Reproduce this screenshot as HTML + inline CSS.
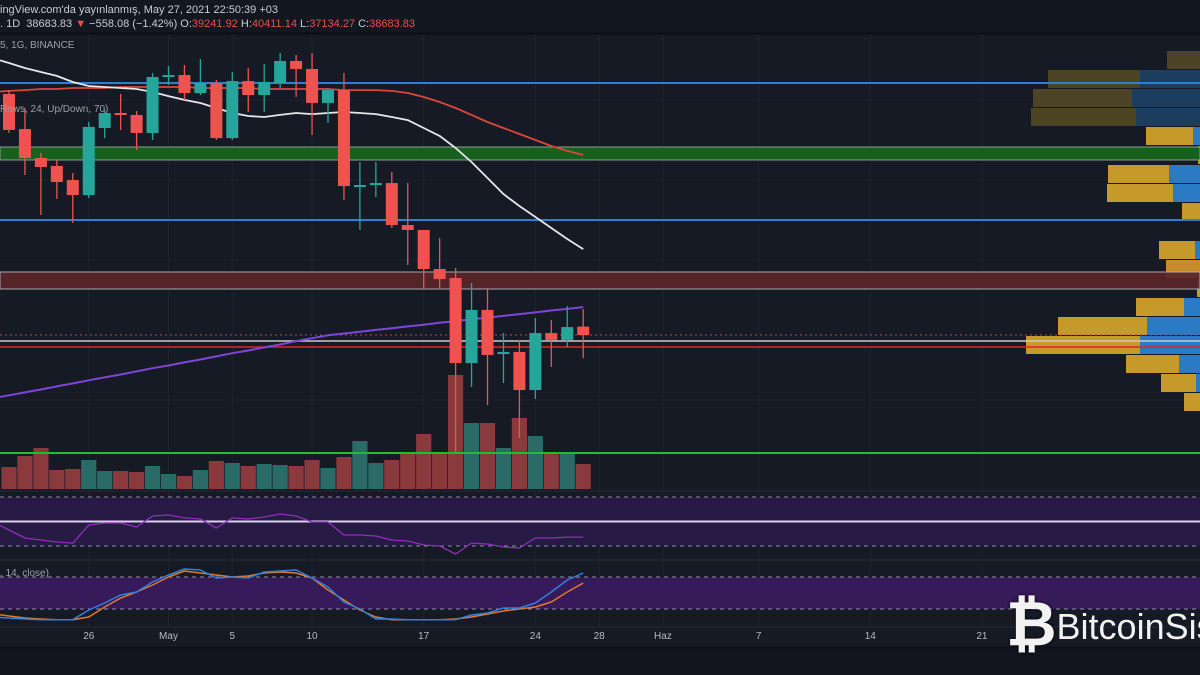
<!DOCTYPE html>
<html><head><meta charset="utf-8">
<style>
html,body{margin:0;padding:0;background:#141823;}
#wrap{position:relative;width:1200px;height:675px;overflow:hidden;background:#161a25;font-family:"Liberation Sans",sans-serif;}
svg{position:absolute;left:0;top:0;}
.hdr{position:absolute;left:0;color:#c8ccd6;font-size:11px;white-space:nowrap;}
.red{color:#e0524f;}
</style></head>
<body>
<div id="wrap">
<svg id="chart" width="1200" height="675"></svg>
<div class="hdr" style="top:4px">ingView.com'da yayınlanmış, May 27, 2021 22:50:39 +03</div>
<div class="hdr" style="top:18px">. 1D &nbsp;38683.83 <span class="red">▼</span> −558.08 (−1.42%) O:<span class="red">39241.92</span> H:<span class="red">40411.14</span> L:<span class="red">37134.27</span> C:<span class="red">38683.83</span></div>
<div class="hdr" style="top:40px;color:#9aa0ab;font-size:10px">5, 1G, BINANCE</div>
<div class="hdr" style="top:104px;color:#9aa0ab;font-size:10px">Rows, 24, Up/Down, 70)</div>
<div class="hdr" style="top:568px;color:#9aa0ab;font-size:10px">, 14, close)</div>
<div style="position:absolute;left:1006px;top:590px;height:70px;white-space:nowrap;color:#f2f2f2;">
<span style="font-size:62px;font-weight:bold;line-height:70px;vertical-align:top;text-shadow:0 0 3px #000;">₿</span><span style="font-size:36px;line-height:70px;vertical-align:top;position:relative;top:2px;">BitcoinSis</span>
</div>
</div>
<script>
const open_ = [54.75,52.41,50.48,49.95,49.01,48.01,52.48,53.48,53.35,52.15,55.88,56.01,54.81,55.48,51.81,55.61,54.68,55.48,56.95,56.41,54.15,55.01,48.55,48.68,48.81,46.01,45.68,43.08,42.48,36.81,40.35,37.41,37.55,35.01,38.81,38.35,39.24];
const high_ = [55.01,53.81,50.81,50.35,49.48,52.88,53.68,54.75,53.61,56.15,56.61,56.68,57.08,55.68,56.21,56.48,56.75,57.48,57.35,57.48,55.15,56.15,50.21,50.21,49.55,48.81,45.68,45.15,43.15,42.15,41.81,38.81,38.35,39.81,39.68,40.61,40.41];
const low_ = [52.15,49.35,46.68,47.75,46.15,47.81,51.81,52.35,51.01,51.68,55.35,54.35,54.68,51.68,51.68,53.55,53.55,55.15,54.55,52.01,52.81,47.68,45.68,47.88,45.81,43.35,41.81,41.81,30.88,35.21,34.01,35.48,31.81,34.41,36.55,37.88,37.13];
const close_ = [52.35,50.48,49.88,48.88,48.01,52.55,53.48,53.35,52.15,55.88,56.01,54.81,55.48,51.81,55.61,54.68,55.55,56.95,56.41,54.15,55.01,48.61,48.68,48.81,46.01,45.68,43.08,42.41,36.81,40.35,37.35,37.55,35.01,38.81,38.35,39.21,38.68];
const volume = [44,66,82,38,40,58,36,36,34,46,30,26,38,56,52,46,50,48,46,58,42,64,96,52,58,72,110,74,228,132,132,82,142,106,72,72,50];
const ma20 = [56.81,56.48,56.21,55.95,55.55,55.28,55.21,55.15,55.08,54.88,54.61,54.35,54.15,53.81,53.48,53.28,53.21,53.35,53.48,53.41,53.48,53.55,53.48,53.41,53.21,53.01,52.48,51.95,51.15,50.21,49.15,48.08,47.28,46.55,45.81,45.08,44.41];
const ma50 = [54.95,55.01,55.08,55.08,55.15,55.15,55.15,55.21,55.21,55.21,55.21,55.21,55.15,55.15,55.15,55.15,55.08,55.08,55.08,55.08,55.08,55.01,55.01,55.01,54.95,54.81,54.55,54.21,53.81,53.35,52.88,52.48,52.08,51.68,51.28,50.95,50.68];
const ma200 = [34.66,34.85,35.05,35.25,35.45,35.66,35.85,36.05,36.25,36.47,36.65,36.85,37.05,37.25,37.47,37.65,37.85,38.05,38.27,38.47,38.66,38.78,38.90,39.02,39.13,39.25,39.37,39.49,39.61,39.73,39.84,39.95,40.07,40.19,40.31,40.42,40.54];
const rsi = [43.1,36.5,34.9,33.3,32.4,47.1,48.8,48.8,45.5,54.5,55.3,52.9,52.0,44.7,52.9,52.0,53.7,56.1,54.5,49.6,49.6,39.0,39.0,38.2,34.9,34.1,30.8,30.0,23.5,32.4,31.6,29.2,28.4,36.5,36.5,37.3,37.3];
const stochK = [3.1,1.3,0,0,0,18.1,31.3,46.3,51.9,70.6,83.8,95,93.1,78.1,80,78.1,89.4,91.3,93.1,78.1,61.3,33.1,20,1.3,1.3,0,0,0,0,8.8,12.5,21.9,21.9,31.3,51.9,74.4,87.5];
const stochD = [6.9,3.1,1.3,0,0,5,23.8,40.6,51.9,65,80,91.3,87.5,83.8,80,81.9,87.5,89.4,87.5,78.1,55.6,36.9,18.1,5,0,0,0,0,1.3,5,10.6,16.3,20,23.8,33.1,51.9,68.8];
const levels = [55.48,46.35,40.35,38.68];
const profUp = [0,60,68,64,7,0,31,27,0,0,5,0,0,16,53,60,21,4,0];
const profDown = [33,92,99,105,47,2,61,66,18,0,36,34,3,48,89,114,53,35,16];
const dateLabels = ["26","May","5","10","17","24","28","Haz","7","14","21"];
const dateIdx = [5,10,14,19,26,33,37,41,47,54,61];

const NS="http://www.w3.org/2000/svg";
const svg=document.getElementById('chart');
function el(tag,attrs,parent){const e=document.createElementNS(NS,tag);for(const k in attrs)e.setAttribute(k,attrs[k]);(parent||svg).appendChild(e);return e;}
const xAt=i=>9+i*15.95;
const yP=p=>335-(p-38.68)*15;
const yV=v=>489-v*0.5;
const yR=v=>546-(v-30)*1.225;
const yS=v=>609-(v-20)*0.5333;

let e;
e=el('rect',{x:0,y:0,width:1200,height:33,fill:'#131720'});

el('line',{x1:0,y1:33.5,x2:1200,y2:33.5,stroke:'#0b0d13','stroke-width':2});
e=el('rect',{x:0,y:648,width:1200,height:27,fill:'#121520'});

el('line',{x1:0,y1:647.5,x2:1200,y2:647.5,stroke:'#0d0f16','stroke-width':1.5});

dateIdx.forEach(i=>{el('line',{x1:xAt(i),y1:34,x2:xAt(i),y2:627,stroke:'#1f2330','stroke-width':1});});
[100,180,260,400].forEach(y=>el('line',{x1:0,y1:y,x2:1200,y2:y,stroke:'#1c202b','stroke-width':1}));

el('line',{x1:0,y1:491,x2:1200,y2:491,stroke:'#262a36','stroke-width':1});
el('line',{x1:0,y1:560,x2:1200,y2:560,stroke:'#262a36','stroke-width':1});
el('line',{x1:0,y1:627,x2:1200,y2:627,stroke:'#262a36','stroke-width':1});

e=el('rect',{x:0,y:yR(70),width:1200,height:yR(30)-yR(70),fill:'#271a45'});

el('line',{x1:0,y1:yR(70),x2:1200,y2:yR(70),stroke:'#8d8fa0','stroke-dasharray':'4 4','stroke-width':1});
el('line',{x1:0,y1:yR(30),x2:1200,y2:yR(30),stroke:'#8d8fa0','stroke-dasharray':'4 4','stroke-width':1});
el('line',{x1:0,y1:yR(50),x2:1200,y2:yR(50),stroke:'#d8d0ea','stroke-width':2});
e=el('rect',{x:0,y:yS(80),width:1200,height:yS(20)-yS(80),fill:'#361a5a'});

el('line',{x1:0,y1:yS(80),x2:1200,y2:yS(80),stroke:'#8d8fa0','stroke-dasharray':'4 4','stroke-width':1});
el('line',{x1:0,y1:yS(20),x2:1200,y2:yS(20),stroke:'#8d8fa0','stroke-dasharray':'4 4','stroke-width':1});

for(let r=0;r<profDown.length;r++){
  const y=51+r*19, dim=r<4;
  const bw=profUp[r], yw=profDown[r];
  if(bw>0){e=el('rect',{x:1200-bw,y:y,width:bw,height:18,fill:dim?'#1d3d5f':'#2a7bc4'});
    }
  if(yw>0){e=el('rect',{x:1200-bw-yw,y:y,width:yw,height:18,fill:dim?'#4d4325':(r==11?'#c98a2a':'#c59a2a')});
    }
}

e=el('rect',{x:0,y:147,width:1200,height:13,fill:'#17611f',stroke:'#8f9a8f','stroke-width':1});

e=el('rect',{x:0,y:272,width:1200,height:17,fill:'#5a2529','fill-opacity':0.92,stroke:'#a9a9b0','stroke-width':1});


e=el('line',{x1:0,y1:yP(levels[0]),x2:1200,y2:yP(levels[0]),stroke:'#2e7fd4','stroke-width':2});

e=el('line',{x1:0,y1:yP(levels[1]),x2:1200,y2:yP(levels[1]),stroke:'#2e7fd4','stroke-width':2});

e=el('line',{x1:0,y1:341,x2:1200,y2:341,stroke:'#c9c9cf','stroke-width':1.5});

e=el('line',{x1:0,y1:347,x2:1200,y2:347,stroke:'#e3232b','stroke-width':1.5});

e=el('line',{x1:0,y1:yP(levels[3]),x2:1200,y2:yP(levels[3]),stroke:'#a8504f','stroke-width':1,'stroke-dasharray':'2 3'});


volume.forEach((v,i)=>{
  const up=close_[i]>=open_[i];
  const r=el('rect',{x:xAt(i)-7.6,y:yV(v),width:15.2,height:489-yV(v),fill:up?'#2a6b67':'#8a3a3d'});
  
  
});
e=el('line',{x1:0,y1:453,x2:1200,y2:453,stroke:'#1fbf2a','stroke-width':2});


function poly(arr,yf,color,w,name,x0){
  let pts=arr.map((v,i)=>xAt(i).toFixed(1)+','+yf(v).toFixed(1));
  if(x0!==undefined){const s=(yf(arr[1])-yf(arr[0]))/(xAt(1)-xAt(0));pts.unshift('0,'+(yf(arr[0])-s*xAt(0)).toFixed(1));}
  const p=el('polyline',{points:pts.join(' '),fill:'none',stroke:color,'stroke-width':w,'stroke-linejoin':'round'});
  
  
}
poly(ma200,yP,'#7e45d6',2,'ma200-line',0);
poly(ma50,yP,'#d9473a',1.8,'ma50-line',0);
poly(ma20,yP,'#e6e6ea',1.8,'ma20-line',0);

for(let i=0;i<open_.length;i++){
  const up=close_[i]>=open_[i], c=up?'#26a69a':'#ef5350', x=xAt(i);
  const w=el('line',{x1:x,y1:yP(high_[i]),x2:x,y2:yP(low_[i]),stroke:c,'stroke-width':1.3});
  
  
  const t=yP(Math.max(open_[i],close_[i])), b=yP(Math.min(open_[i],close_[i]));
  const r=el('rect',{x:x-6,y:t,width:12,height:Math.max(2,b-t),fill:c});
  
  
}

poly(rsi,yR,'#8e2fb8',1.3,'rsi-line',0);
poly(stochD,yS,'#e07a2a',1.5,'stoch-d-line',0);
poly(stochK,yS,'#2f7fe0',1.5,'stoch-k-line',0);

dateLabels.forEach((t,k)=>{
  const tx=el('text',{x:xAt(dateIdx[k]),y:639,fill:'#b6bac4','font-size':10,'text-anchor':'middle','font-family':'Liberation Sans, sans-serif'});
  tx.textContent=t;
  
  
});
</script>
</body></html>
